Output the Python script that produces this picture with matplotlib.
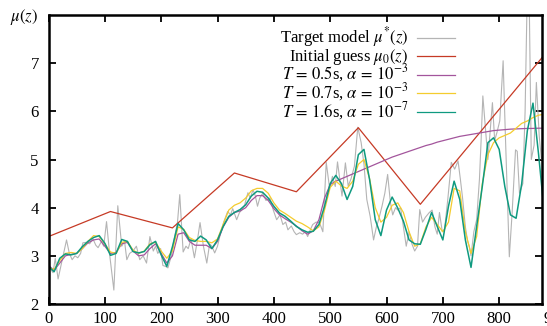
import matplotlib
matplotlib.use("Agg")
import matplotlib.pyplot as plt
import numpy as np

plt.rcParams['font.family'] = ['Liberation Serif', 'DejaVu Serif']
plt.rcParams['mathtext.fontset'] = 'stix'

# target model (noisy)
target_z = [0, 4, 8, 12, 17, 24, 32, 37, 42, 47, 52, 57, 61, 67, 73, 79, 84, 88, 94, 98,
            103, 109, 116, 123, 130, 135, 139, 144, 150, 156, 162, 168, 174, 180, 186, 190, 194, 199,
            203, 208, 212, 218, 224, 229, 233, 239, 244, 248, 253, 259, 264, 269, 275, 281, 286, 290,
            295, 300, 304, 311, 318, 323, 327, 334, 339, 343, 348, 354, 358, 363, 367, 371, 375, 380,
            386, 393, 399, 405, 411, 416, 421, 425, 431, 436, 440, 446, 451, 456, 460, 465, 469, 475,
            481, 487, 493, 499, 504, 509, 513, 517, 521, 527, 532, 537, 543, 549, 555, 560, 565, 571,
            577, 582, 586, 592, 597, 602, 607, 611, 616, 620, 625, 630, 635, 640, 645, 650, 655, 659,
            664, 669, 676, 681, 686, 690, 694, 699, 703, 709, 715, 721, 727, 731, 735, 740, 744, 747,
            750, 755, 760, 765, 768, 771, 776, 780, 784, 788, 792, 796, 801, 807, 811, 814, 818, 823,
            829, 832, 836, 842, 846, 850, 853, 857, 862, 866, 871, 875, 880]
target_mu = [2.8, 2.72, 2.65, 2.95, 2.52, 2.9, 3.33, 3.05, 2.92, 3.0, 2.96, 3.05, 3.27, 3.28, 3.25, 3.35, 3.22, 3.17, 3.3, 3.2,
             3.71, 2.98, 2.29, 4.04, 3.2, 3.3, 2.92, 3.05, 3.1, 3.2, 2.92, 3.0, 2.85, 3.4, 3.1, 3.2, 3.05, 3.15,
             2.8, 2.78, 2.75, 3.0, 3.4, 3.7, 4.27, 3.08, 3.2, 3.15, 3.35, 2.96, 3.3, 3.69, 3.2, 2.85, 3.25, 3.2,
             3.06, 3.2, 3.4, 3.7, 3.92, 3.85, 3.98, 3.75, 3.9, 3.95, 4.05, 4.31, 4.2, 4.37, 4.25, 4.03, 4.2, 4.3,
             4.15, 4.2, 3.95, 3.75, 3.85, 3.65, 3.7, 3.54, 3.62, 3.5, 3.44, 3.48, 3.45, 3.5, 3.4, 3.55, 3.65, 3.7,
             3.69, 3.5, 4.94, 4.4, 4.65, 4.44, 4.95, 4.6, 4.24, 4.93, 4.45, 4.6, 4.86, 5.67, 5.35, 4.9, 4.17, 3.82,
             3.33, 3.6, 3.75, 4.03, 4.3, 4.69, 4.1, 3.85, 4.0, 3.95, 4.0, 3.6, 3.2, 3.5, 3.25, 3.1, 3.2, 3.96,
             3.7, 3.8, 3.9, 3.95, 3.6, 3.45, 3.9, 3.5, 3.55, 4.2, 4.94, 4.8, 4.97, 4.6, 4.2, 3.6, 3.3, 3.19,
             3.0, 3.5, 3.75, 4.6, 5.42, 6.32, 5.6, 5.0, 5.6, 6.18, 5.4, 5.56, 5.8, 7.05, 5.5, 4.44, 2.98, 3.9,
             5.2, 5.17, 4.3, 4.5, 6.0, 8.6, 8.6, 5.0, 5.3, 6.6, 5.5, 5.0, 5.2]

# initial guess (piecewise linear)
guess_z = [0, 110, 220, 330, 440, 550, 660, 880]
guess_mu = [3.4, 3.92, 3.58, 4.72, 4.33, 5.66, 4.07, 7.17]

# reconstructions on a 10-unit grid
z = np.arange(0, 890, 10)
mu_t05 = [2.8, 2.7, 2.85, 3.0, 3.03, 3.05, 3.15, 3.27, 3.33, 3.35,
          3.2, 3.05, 3.07, 3.25, 3.28, 3.1, 3.0, 3.02, 3.15, 3.25,
          3.05, 2.85, 3.0, 3.45, 3.48, 3.3, 3.22, 3.22, 3.22, 3.15,
          3.3, 3.6, 3.8, 3.9, 3.93, 4.0, 4.15, 4.25, 4.25, 4.15,
          3.98, 3.85, 3.77, 3.7, 3.62, 3.52, 3.45, 3.52, 3.75, 4.2,
          4.48, 4.55, 4.6, 4.65, 4.7, 4.75, 4.8, 4.85, 4.9, 4.95,
          5.0, 5.05, 5.09, 5.13, 5.17, 5.21, 5.25, 5.29, 5.32, 5.36,
          5.39, 5.42, 5.45, 5.48, 5.5, 5.52, 5.54, 5.56, 5.58, 5.6,
          5.61, 5.62, 5.63, 5.635, 5.64, 5.645, 5.645, 5.65, 5.65]
mu_t07 = [2.75, 2.72, 2.9, 3.05, 3.07, 3.05, 3.15, 3.3, 3.42, 3.4,
          3.25, 3.08, 3.05, 3.28, 3.3, 3.12, 3.05, 3.1, 3.25, 3.28,
          3.1, 2.95, 3.1, 3.6, 3.55, 3.38, 3.32, 3.3, 3.3, 3.27,
          3.35, 3.65, 3.95, 4.05, 4.1, 4.2, 4.35, 4.4, 4.4, 4.3,
          4.1, 3.95, 3.88, 3.8, 3.72, 3.67, 3.6, 3.52, 3.6, 3.95,
          4.42, 4.55, 4.45, 4.4, 4.55, 4.9, 5.0, 4.6, 4.0, 3.7,
          3.8, 4.05, 4.1, 3.9, 3.5, 3.2, 3.25, 3.6, 3.8, 3.65,
          3.5, 3.7, 4.4, 4.35, 3.5, 3.05, 3.4, 4.5, 5.1, 5.35,
          5.45, 5.5, 5.55, 5.65, 5.75, 5.8, 5.87, 5.92, 5.94]
mu_t16 = [2.78, 2.67, 2.95, 3.04, 3.02, 3.05, 3.19, 3.3, 3.38, 3.42,
          3.26, 3.01, 3.05, 3.34, 3.3, 3.09, 3.06, 3.09, 3.23, 3.3,
          3.02, 2.78, 3.19, 3.67, 3.54, 3.33, 3.3, 3.41, 3.33, 3.15,
          3.33, 3.61, 3.82, 3.9, 3.96, 4.06, 4.24, 4.34, 4.32, 4.2,
          4.03, 3.89, 3.82, 3.72, 3.61, 3.54, 3.49, 3.51, 3.65, 4.03,
          4.5, 4.67, 4.5, 4.17, 4.44, 5.1, 5.21, 4.58, 3.75, 3.42,
          3.95, 4.22, 3.99, 3.72, 3.33, 3.25, 3.24, 3.55, 3.9, 3.61,
          3.33, 4.03, 4.55, 4.17, 3.33, 2.76, 3.61, 4.44, 5.35, 5.45,
          5.21, 4.44, 3.85, 3.78, 4.5, 5.6, 6.17, 5.1, 3.9]

fig = plt.figure(figsize=(5.47, 3.26), dpi=100)
ax = fig.add_axes([48.5 / 547, 22 / 326, 493.5 / 547, 289 / 326])

ax.plot(target_z, target_mu, color='#b4b4b4', lw=0.8)
ax.plot(guess_z, guess_mu, color='#c63a25', lw=0.9)
ax.plot(z, mu_t05, color='#a3559c', lw=0.9)
ax.plot(z, mu_t07, color='#f4cc2e', lw=0.9)
ax.plot(z, mu_t16, color='#0f9a80', lw=1.1)

ax.set_xlim(0, 876)
ax.set_ylim(2, 8)
ax.set_xticks(range(0, 900, 100))
ax.set_yticks(range(2, 8))
ax.tick_params(direction='in', length=5, width=1.3, top=True, right=True, labelsize=12)
ax.tick_params(axis='x', pad=5)
ax.tick_params(axis='y', pad=7)
for s in ax.spines.values():
    s.set_linewidth(1.8)

# clipped tick label at the image edge
ax.text(900, -0.024, '900', transform=ax.get_xaxis_transform(), ha='center', va='top',
        fontsize=12, clip_on=False)

fig.text(24 / 547, 1 - 17 / 326, r'$\mu(z)$', ha='center', va='center', fontsize=12)

# key: text on the left, line sample on the right
labels = [r'Target model $\mu^{*}(z)$', r'Initial guess $\mu_0(z)$',
          r'$T\,=\,0.5$s, $\alpha\,=\,10^{-3}$', r'$T\,=\,0.7$s, $\alpha\,=\,10^{-3}$',
          r'$T\,=\,1.6$s, $\alpha\,=\,10^{-7}$']
colors = ['#b4b4b4', '#c63a25', '#a3559c', '#f4cc2e', '#0f9a80']
for i, (lab, c) in enumerate(zip(labels, colors)):
    yl = 0.9215 - i * 0.0643
    ax.plot([0.7467, 0.8237], [yl, yl], color=c, lw=0.9, transform=ax.transAxes)
    ax.text(0.7285, yl - 0.016, lab, transform=ax.transAxes, ha='right', va='baseline', fontsize=12)

fig.savefig('out.png', dpi=100)
